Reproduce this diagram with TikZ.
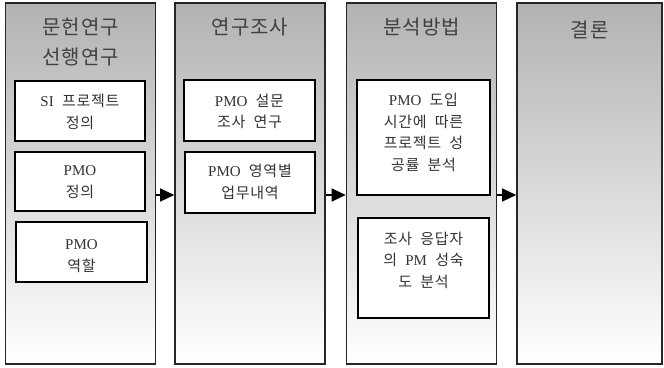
\documentclass[tikz,border=0pt]{standalone}
\usepackage{fontspec}
\setmainfont{Liberation Serif}
\newfontfamily\kr{Noto Sans CJK KR}[LetterSpace=5,WordSpace=2]
\usetikzlibrary{arrows.meta,calc}
\newcommand\lt[1]{{\rmfamily #1}}
\begin{document}
\begin{tikzpicture}[x=1pt,y=-1pt,
  colbox/.style={draw=black!85,line width=1.6pt,top color=black!30,bottom color=white,
    minimum width=150pt,minimum height=361pt,inner sep=0pt},
  head/.style={font=\kr\fontsize{20}{30}\selectfont,text=black!75,align=center,inner sep=0pt},
  inbox/.style={draw=black,line width=1.6pt,fill=white,inner sep=0pt},
  intext/.style={font=\kr\fontsize{15}{21.5}\selectfont,text=black!80,align=center,inner sep=0pt},
  flow/.style={line width=1.2pt,draw=black,-{Triangle[length=14pt,width=13pt]}}]
\useasboundingbox (0,0) rectangle (664,367);
% columns
\node[colbox] (c1) at (80.5,183.5) {};
\node[colbox] (c2) at (250,183.5) {};
\node[colbox] (c3) at (421.5,183.5) {};
\node[colbox,minimum width=145pt] (c4) at (589.5,183.5) {};
% headers
\node[head] (h1) at (80.5,42) {문헌연구\\선행연구};
\node[head] (h2) at (250,27) {연구조사};
\node[head] (h3) at (421.5,27) {분석방법};
\node[head] (h4) at (589.5,30) {결론};
% inner boxes
\node[inbox,minimum width=130pt,minimum height=60pt] (b11) at (80,111) {};
\node[inbox,minimum width=130pt,minimum height=59pt] (b12) at (80,181.5) {};
\node[inbox,minimum width=131pt,minimum height=60pt] (b13) at (81.5,252) {};
\node[inbox,minimum width=131pt,minimum height=61pt] (b21) at (249.5,110.5) {};
\node[inbox,minimum width=130pt,minimum height=61pt] (b22) at (250,182.5) {};
\node[inbox,minimum width=133pt,minimum height=115pt] (b31) at (423.5,137.5) {};
\node[inbox,minimum width=131pt,minimum height=100pt] (b32) at (423.5,268) {};
% texts
\node[intext] (t11) at (80,112) {\lt{SI} 프로젝트\\정의};
\node[intext] (t12) at (80,182) {\lt{PMO}\\정의};
\node[intext] (t13) at (81.5,256) {\lt{PMO}\\역할};
\node[intext] (t21) at (249.5,111.5) {\lt{PMO} 설문\\조사 연구};
\node[intext] (t22) at (250,182) {\lt{PMO} 영역별\\업무내역};
\node[intext] (t31) at (423.5,132.5) {\lt{PMO} 도입\\시간에 따른\\프로젝트 성\\공률 분석};
\node[intext] (t32) at (423.5,260) {조사 응답자\\의 \lt{PM} 성숙\\도 분석};
% arrows
\coordinate (ay) at (0,195);
\draw[flow] (c1.east |- ay) -- (c2.west |- ay);
\draw[flow] (c2.east |- ay) -- (c3.west |- ay);
\draw[flow] (c3.east |- ay) -- (c4.west |- ay);
\end{tikzpicture}
\end{document}
